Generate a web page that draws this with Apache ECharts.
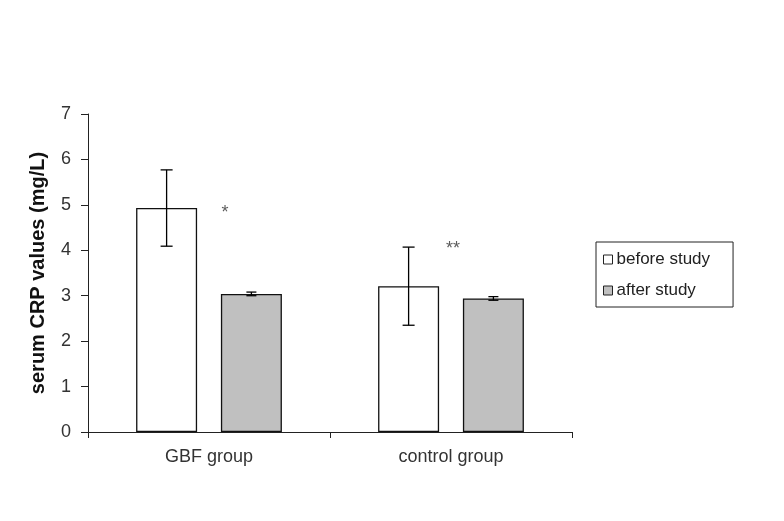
<!DOCTYPE html>
<html>
<head>
<meta charset="utf-8">
<script src="https://cdn.jsdelivr.net/npm/echarts@6/dist/echarts.min.js"></script>
<style>html,body{margin:0;padding:0;background:#fff;}#c{width:784px;height:521px;}</style>
</head>
<body>
<div id="c"></div>
<script>
const categories = ['GBF group', 'control group'];
const seriesNames = ['before study', 'after study'];
const beforeValues = [4.93, 3.21];
const afterValues = [3.04, 2.94];
const beforeErr = [0.84, 0.86];
const afterErr = [0.04, 0.04];
const yTicks = [0, 1, 2, 3, 4, 5, 6, 7];
const annotations = [['GBF group', 4.82, '*'], ['control group', 4.02, '**']];

const BAR_W = 61;
const GAP_RATIO = 0.39;
const FONT = 'Liberation Sans, Arial, sans-serif';

function errData(vals, errs) {
  return vals.map((v, i) => [i, v - errs[i], v + errs[i]]);
}
function errSeries(vals, errs, side, cap) {
  return {
    type: 'custom',
    data: errData(vals, errs),
    z: 10,
    silent: true,
    renderItem: function (params, api) {
      const off = side * (BAR_W + BAR_W * GAP_RATIO) / 2;
      const lo = api.coord([api.value(0), api.value(1)]);
      const hi = api.coord([api.value(0), api.value(2)]);
      const x = lo[0] + off;
      const st = { stroke: '#000', lineWidth: 1.3 };
      return {
        type: 'group',
        children: [
          { type: 'line', shape: { x1: x, y1: lo[1], x2: x, y2: hi[1] }, style: st },
          { type: 'line', shape: { x1: x - cap, y1: lo[1], x2: x + cap, y2: lo[1] }, style: st },
          { type: 'line', shape: { x1: x - cap, y1: hi[1], x2: x + cap, y2: hi[1] }, style: st }
        ]
      };
    }
  };
}

const chart = echarts.init(document.getElementById('c'), null, { renderer: 'canvas' });
chart.setOption({
  animation: false,
  backgroundColor: '#fff',
  textStyle: { fontFamily: FONT },
  grid: { left: 88, right: 212, top: 114, bottom: 89, containLabel: false },
  legend: {
    data: seriesNames,
    orient: 'vertical',
    left: 596, top: 242,
    padding: [9, 23, 8, 7],
    borderColor: '#222', borderWidth: 1,
    icon: 'rect',
    itemWidth: 9, itemHeight: 9, itemGap: 14,
    itemStyle: { borderColor: '#222', borderWidth: 1 },
    textStyle: { fontSize: 17, color: '#222', fontFamily: FONT, padding: [0, 0, 0, -1] }
  },
  xAxis: {
    type: 'category',
    data: categories,
    axisLine: { lineStyle: { color: '#222', width: 1 } },
    axisTick: { show: true, alignWithLabel: false, length: 6, lineStyle: { color: '#222' } },
    axisLabel: { fontSize: 18, color: '#333', margin: 16, fontFamily: FONT }
  },
  yAxis: {
    type: 'value',
    min: yTicks[0], max: yTicks[yTicks.length - 1], interval: 1,
    name: 'serum CRP values (mg/L)',
    nameLocation: 'middle',
    nameGap: 40,
    nameTextStyle: { fontSize: 20, fontWeight: 'bold', color: '#111', fontFamily: FONT },
    axisLine: { show: true, lineStyle: { color: '#222', width: 1 } },
    axisTick: { show: true, length: 7, lineStyle: { color: '#222' } },
    axisLabel: { fontSize: 18, color: '#333', margin: 17, fontFamily: FONT },
    splitLine: { show: false }
  },
  series: [
    {
      name: seriesNames[0], type: 'bar', data: beforeValues,
      barWidth: BAR_W, barGap: (GAP_RATIO * 100) + '%',
      itemStyle: { color: '#fff', borderColor: '#111', borderWidth: 1.3 }
    },
    {
      name: seriesNames[1], type: 'bar', data: afterValues,
      barWidth: BAR_W,
      itemStyle: { color: '#c0c0c0', borderColor: '#111', borderWidth: 1.3 }
    },
    errSeries(beforeValues, beforeErr, -1, 6),
    errSeries(afterValues, afterErr, 1, 5),
    {
      type: 'scatter',
      data: annotations.map(a => [a[0], a[1], a[2]]),
      symbolSize: 0,
      silent: true,
      label: {
        show: true,
        formatter: p => p.data[2],
        fontSize: 18, color: '#333', fontFamily: FONT,
        offset: [0, 0]
      },
      labelLayout: function (params) {
        return { dx: params.dataIndex === 0 ? 16 : 2 };
      }
    }
  ]
});
</script>
</body>
</html>
